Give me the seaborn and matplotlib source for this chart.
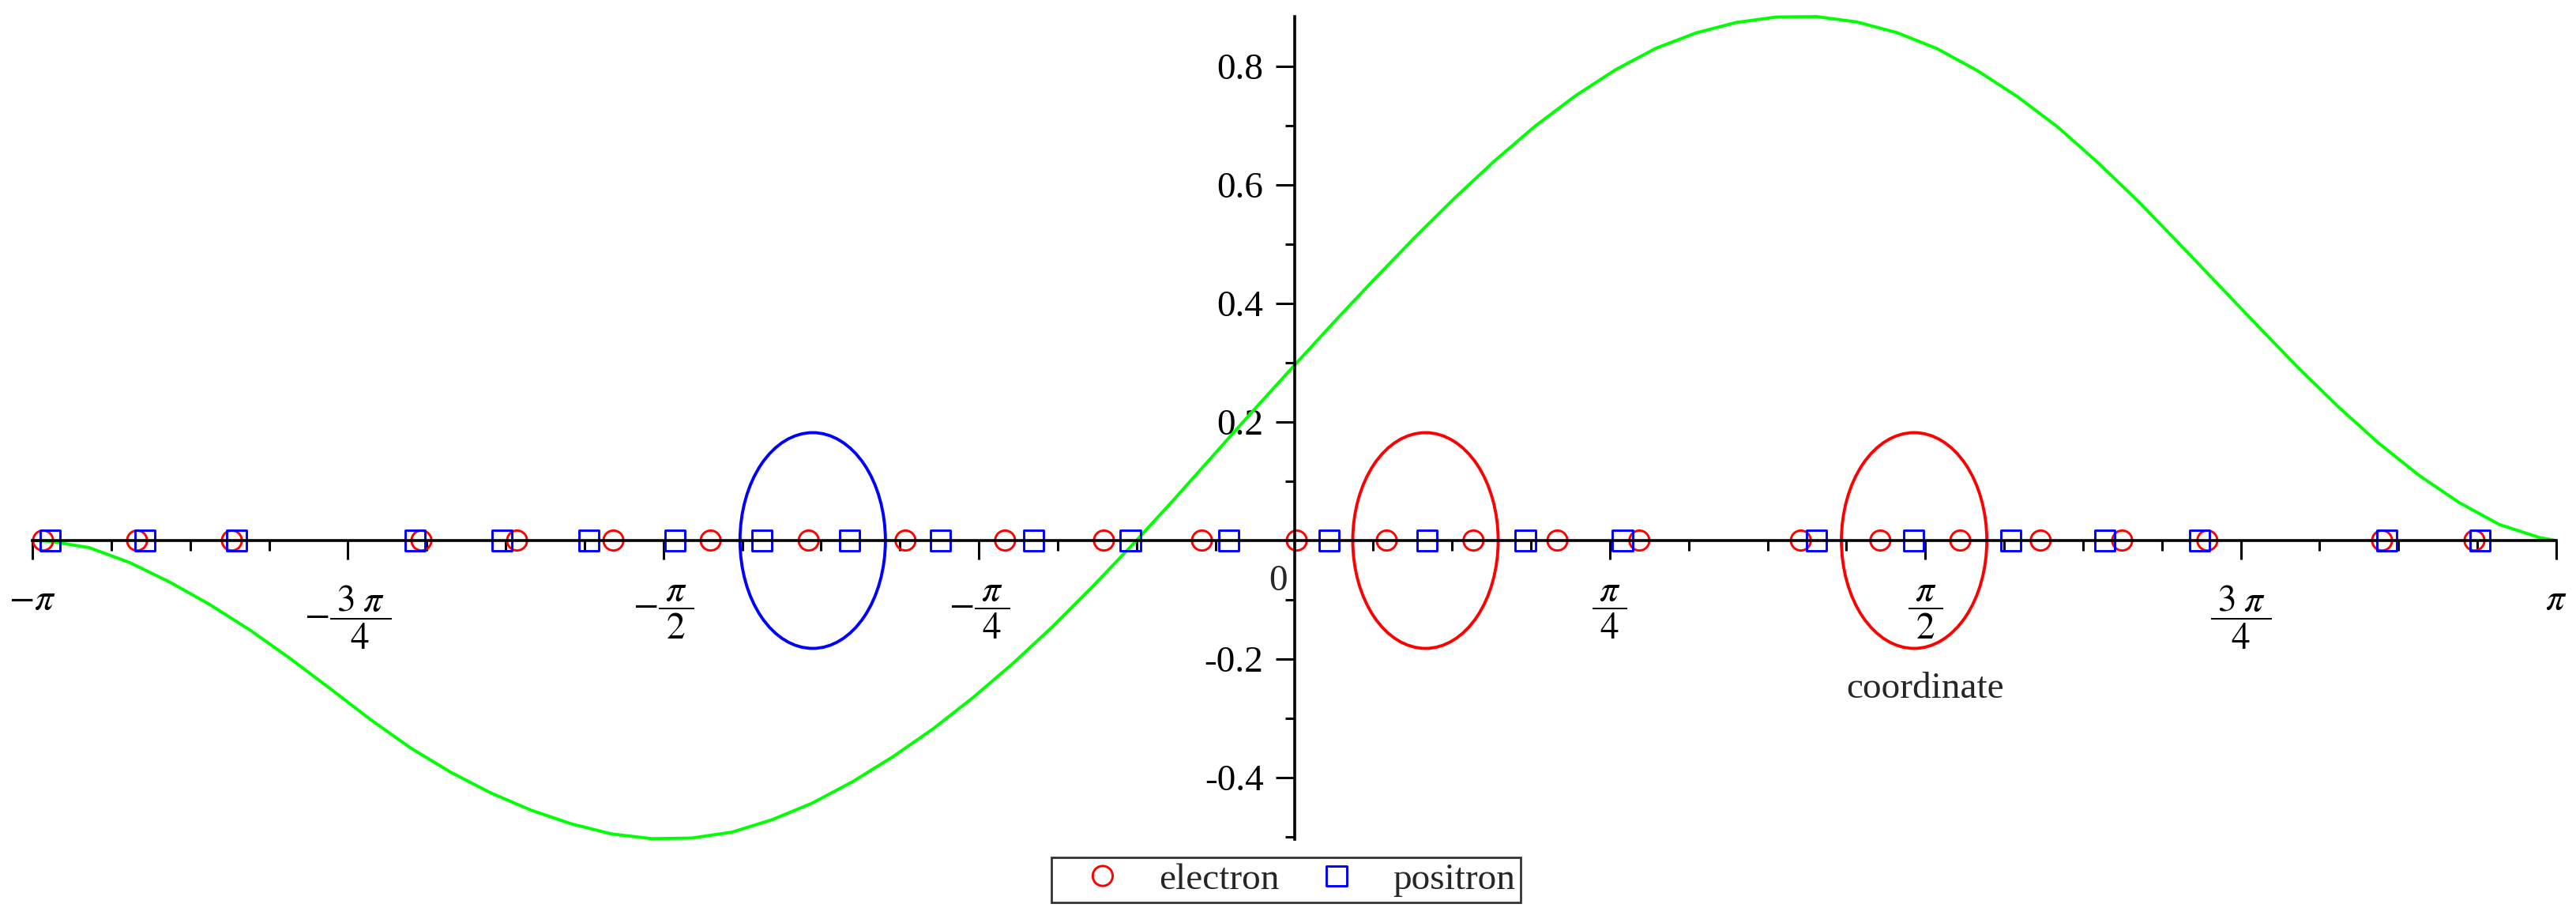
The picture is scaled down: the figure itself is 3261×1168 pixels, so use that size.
import numpy as np
import matplotlib.pyplot as plt
from matplotlib.patches import Ellipse
import seaborn as sns

# green curve, values every 0.1
curve_x = [-3.1416, -3.1, -3.0, -2.9, -2.8, -2.7, -2.6, -2.5, -2.4, -2.3, -2.2, -2.1, -2.0,
           -1.9, -1.8, -1.7, -1.6, -1.5, -1.4, -1.3, -1.2, -1.1, -1.0, -0.9, -0.8, -0.7,
           -0.6, -0.5, -0.4, -0.3, -0.2, -0.1, 0.0, 0.1, 0.2, 0.3, 0.4, 0.5, 0.6, 0.7,
           0.8, 0.9, 1.0, 1.1, 1.2, 1.3, 1.4, 1.5, 1.6, 1.7, 1.8, 1.9, 2.0, 2.1, 2.2,
           2.3, 2.4, 2.5, 2.6, 2.7, 2.8, 2.9, 3.0, 3.1, 3.1416]
curve_y = [0.0, -0.001, -0.012, -0.037, -0.070, -0.108, -0.151, -0.199, -0.250, -0.302,
           -0.350, -0.391, -0.426, -0.455, -0.478, -0.495, -0.503, -0.502, -0.492, -0.471,
           -0.443, -0.407, -0.365, -0.318, -0.265, -0.207, -0.144, -0.076, -0.005, 0.069,
           0.145, 0.221, 0.2955, 0.3695, 0.4415, 0.5115, 0.5785, 0.6415, 0.6995, 0.7505,
           0.7945, 0.8305, 0.8565, 0.8741, 0.8833, 0.884, 0.875, 0.857, 0.830, 0.793,
           0.749, 0.698, 0.638, 0.573, 0.503, 0.432, 0.361, 0.291, 0.225, 0.164,
           0.110, 0.064, 0.027, 0.005, 0.0]

# particle positions on the axis
electron_x = [-3.115, -2.881, -2.645, -2.173, -1.935, -1.695, -1.453, -1.209, -0.968, -0.720,
              -0.474, -0.230, 0.006, 0.230, 0.446, 0.655, 0.859, 1.261, 1.459, 1.658,
              1.858, 2.061, 2.273, 2.708, 2.938]
electron_y = [0.0] * len(electron_x)
positron_x = [-3.097, -2.861, -2.633, -2.189, -1.972, -1.756, -1.542, -1.325, -1.107, -0.881,
              -0.649, -0.408, -0.163, 0.086, 0.330, 0.575, 0.817, 1.300, 1.542, 1.783,
              2.018, 2.254, 2.720, 2.952]
positron_y = [0.0] * len(positron_x)

# highlighted groups
ring_x = [-1.199, 0.3265, 1.543]
ring_colors = ['#0000ff', '#ff0000', '#ff0000']
RING_W, RING_H = 0.362, 0.364

# axis ticks
x_major = np.array([-4, -3, -2, -1, 1, 2, 3, 4]) * np.pi / 4
x_labels = [r'$-\pi$', r'$-\dfrac{\;3\;\pi\;}{4}$', r'$-\dfrac{\;\pi\;}{2}$', r'$-\dfrac{\;\pi\;}{4}$',
            r'$\dfrac{\;\pi\;}{4}$', r'$\dfrac{\;\pi\;}{2}$', r'$\dfrac{\;3\;\pi\;}{4}$', r'$\pi$']
x_minor = np.array([k for k in range(-15, 16) if k % 4 != 0]) * np.pi / 16
y_major = [-0.4, -0.2, 0.2, 0.4, 0.6, 0.8]
y_labels = ['-0.4', '-0.2', '0.2', '0.4', '0.6', '0.8']
y_minor = [-0.5, -0.3, -0.1, 0.1, 0.3, 0.5, 0.7]

sns.set_theme(style='white')
plt.rcParams['font.family'] = ['Liberation Serif', 'DejaVu Serif']
plt.rcParams['mathtext.fontset'] = 'stix'
plt.rcParams['axes.unicode_minus'] = False

FS = 34

fig = plt.figure(figsize=(32.62, 11.68), dpi=100)
ax = fig.add_axes([0.01257, 0.09075, 0.97946, 0.89127])

sns.lineplot(x=curve_x, y=curve_y, ax=ax, color='#00ff00', linewidth=2.8,
             sort=False, estimator=None, legend=False, zorder=3, clip_on=False)

sns.scatterplot(x=electron_x, y=electron_y, ax=ax, marker='o', s=330,
                facecolor='none', edgecolor='#ff0000', linewidth=2.1,
                label='electron', zorder=4, clip_on=False)
sns.scatterplot(x=positron_x, y=positron_y, ax=ax, marker='s', s=330,
                facecolor='none', edgecolor='#0000ff', linewidth=2.1,
                label='positron', zorder=4, clip_on=False)

for cx, c in zip(ring_x, ring_colors):
    ax.add_patch(Ellipse((cx, 0.0), RING_W, RING_H, fill=False,
                         edgecolor=c, linewidth=2.8, zorder=3))

ax.set_xlim(-np.pi, np.pi)
ax.set_ylim(-0.504, 0.884)

# axes through the origin
for side in ['top', 'right']:
    ax.spines[side].set_visible(False)
ax.spines['left'].set_position(('data', 0))
ax.spines['bottom'].set_position(('data', 0))
for side in ['left', 'bottom']:
    ax.spines[side].set_color('black')
    ax.spines[side].set_linewidth(2.6)
    ax.spines[side].set_zorder(6)

ax.set_xticks(x_major, x_labels)
ax.set_xticks(x_minor, minor=True)
ax.set_yticks(y_major, y_labels)
ax.set_yticks(y_minor, minor=True)
ax.tick_params(axis='both', which='both', direction='out', color='black',
               bottom=True, left=True, top=False, right=False,
               width=2.2, labelsize=FS, labelcolor='black')
ax.tick_params(axis='x', which='major', length=17, pad=22)
ax.tick_params(axis='x', which='minor', length=9)
ax.tick_params(axis='y', which='major', length=17, pad=11)
ax.tick_params(axis='y', which='minor', length=9)
ax.set_xlabel('')
ax.set_ylabel('')

ax.text(-0.040, -0.084, '0', fontsize=FS, ha='center', va='baseline')
ax.text(np.pi / 2, -0.265, 'coordinate', fontsize=FS, ha='center', va='baseline')

handles, labels = ax.get_legend_handles_labels()
if ax.get_legend() is not None:
    ax.get_legend().remove()
leg = fig.legend(handles, labels, loc='center', bbox_to_anchor=(0.4991, 0.0467),
                 ncol=2, fontsize=FS, frameon=True, fancybox=False, shadow=False,
                 borderpad=0.15, handlelength=2.46, handletextpad=0.28,
                 columnspacing=0.3, scatterpoints=1, scatteryoffsets=[0.5],
                 borderaxespad=0)
leg.get_frame().set_edgecolor('black')
leg.get_frame().set_linewidth(2)

fig.savefig('out.png', dpi=100)
